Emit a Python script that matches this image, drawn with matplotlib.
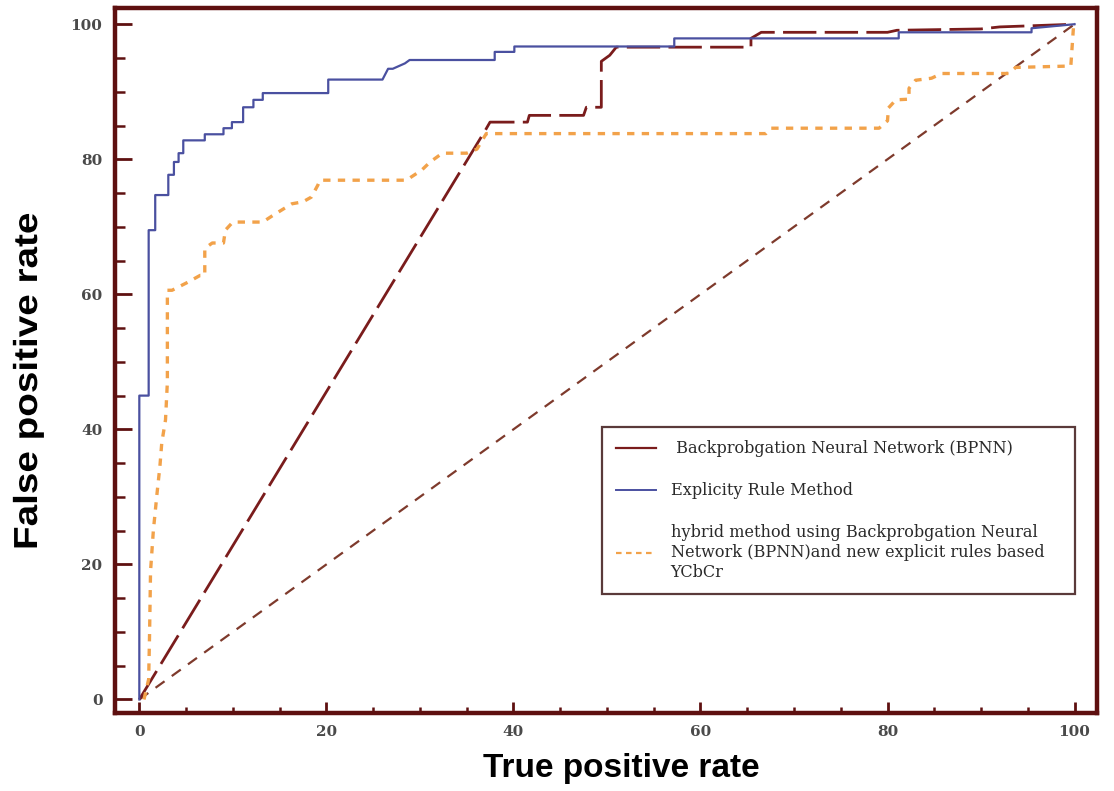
import matplotlib
matplotlib.use("Agg")
import matplotlib.pyplot as plt
from matplotlib.ticker import MultipleLocator
from matplotlib.lines import Line2D
from matplotlib.patheffects import AbstractPathEffect
from matplotlib.transforms import Affine2D

# ---- data ----
explicit_x = [0, 0, 1.0, 1.0, 1.7, 1.7, 3.1, 3.1, 3.7, 3.7, 4.2, 4.2, 4.7, 4.7, 7.0, 7.0,
              9.0, 9.0, 9.9, 9.9, 11.1, 11.1, 12.2, 12.2, 13.2, 13.2, 20.2, 20.2, 26.0, 26.6,
              27.1, 28.4, 28.9, 38.0, 38.0, 40.1, 40.1, 57.2, 57.2, 81.2, 81.2, 95.4, 95.4, 100]
explicit_y = [0, 45, 45, 69.5, 69.5, 74.7, 74.7, 77.7, 77.7, 79.6, 79.6, 80.9, 80.9, 82.8, 82.8, 83.7,
              83.7, 84.6, 84.6, 85.5, 85.5, 87.7, 87.7, 88.8, 88.8, 89.8, 89.8, 91.8, 91.8, 93.4,
              93.4, 94.2, 94.7, 94.7, 95.9, 95.9, 96.7, 96.7, 97.9, 97.9, 98.8, 98.8, 99.4, 100]

bpnn_x = [0, 37.0, 37.5, 41.5, 41.7, 47.5, 47.8, 49.2, 49.4, 49.4, 50.3, 51.0, 65.4, 65.4,
          66.5, 80.0, 81.0, 90.0, 92.0, 100]
bpnn_y = [0, 84.3, 85.5, 85.5, 86.5, 86.5, 87.7, 87.7, 87.7, 94.5, 95.4, 96.6, 96.6, 97.9,
          98.8, 98.8, 99.1, 99.3, 99.6, 100]

hybrid_x = [0.5, 1.0, 1.1, 1.2, 1.5, 1.9, 2.2, 2.4, 2.8, 3.0, 3.0, 3.5, 5.2, 6.5, 7.0, 7.0,
            7.8, 9.0, 9.2, 10.0, 13.2, 14.3, 16.3, 17.5, 18.4, 19.1, 19.3, 28.6, 29.1, 30.2,
            31.1, 32.4, 35.0, 36.1, 37.1, 67.0, 67.5, 79.1, 80.0, 80.1, 80.9, 82.3, 82.3, 83.0,
            84.7, 85.8, 93.0, 93.7, 99.4, 99.6, 99.9, 100]
hybrid_y = [0, 3, 10, 19, 25, 30.6, 34.5, 38, 41.4, 47, 60.6, 60.6, 61.8, 62.8, 62.8, 66.8,
            67.6, 67.6, 69.5, 70.7, 70.7, 71.7, 73.4, 73.7, 74.4, 76.2, 76.9, 76.9, 77.4, 78.4,
            79.6, 80.9, 80.9, 81.5, 83.8, 83.8, 84.6, 84.6, 85.7, 87.6, 88.8, 88.9, 90.5, 91.7,
            92.0, 92.7, 92.7, 93.6, 93.8, 93.8, 99.9, 100]

ref_x = [0, 100]
ref_y = [0, 100]

legend_labels = [
    " Backprobgation Neural Network (BPNN)",
    "Explicity Rule Method",
    "hybrid method using Backprobgation Neural\nNetwork (BPNN)and new explicit rules based\nYCbCr",
]
x_ticks = [0, 20, 40, 60, 80, 100]
y_ticks = [0, 20, 40, 60, 80, 100]

# ---- styling ----
frame_col = "#5e1010"
bpnn_col = "#7a1c1c"
blue_col = "#4a50a0"
orange_col = "#f2a24a"
ref_col = "#7e3a2c"


class Stretch(AbstractPathEffect):
    """Draw text stretched along its own direction (keeps it a Text artist)."""
    def __init__(self, sx=1.0, sy=1.0):
        super().__init__()
        self.sx, self.sy = sx, sy

    def draw_path(self, renderer, gc, tpath, affine, rgbFace=None):
        renderer.draw_path(gc, tpath, Affine2D().scale(self.sx, self.sy) + affine, rgbFace)


W, H = 1114, 791
fig = plt.figure(figsize=(W / 100, H / 100), dpi=100)
ax = fig.add_axes([115 / W, 1 - 713 / H, (1097 - 115) / W, (713 - 8) / H])

ax.plot(ref_x, ref_y, color=ref_col, lw=1.6, linestyle=(0, (5, 4)), zorder=2)
ax.plot(bpnn_x, bpnn_y, color=bpnn_col, lw=2.0, linestyle=(0, (12, 3)), zorder=3)
ax.plot(explicit_x, explicit_y, color=blue_col, lw=1.6, zorder=4)
ax.plot(hybrid_x, hybrid_y, color=orange_col, lw=2.4, linestyle=(0, (2.2, 2.2)), zorder=3)

ax.set_xlim(-2.6, 102.4)
ax.set_ylim(-2.0, 102.4)
ax.set_xticks(x_ticks)
ax.set_yticks(y_ticks)
ax.xaxis.set_minor_locator(MultipleLocator(5))
ax.yaxis.set_minor_locator(MultipleLocator(5))
ax.tick_params(which="both", direction="in", color=frame_col,
               labelsize=11, labelcolor="#4a4a4a")
ax.tick_params(axis="y", which="major", length=12, width=2.0, pad=9)
ax.tick_params(axis="y", which="minor", length=7, width=1.8)
ax.tick_params(axis="x", which="major", length=8, width=2.0, pad=9)
ax.tick_params(axis="x", which="minor", length=4, width=1.8)
for lab in ax.get_xticklabels() + ax.get_yticklabels():
    lab.set_fontfamily("DejaVu Serif")
    lab.set_fontweight("bold")

for s in ax.spines.values():
    s.set_color(frame_col)
    s.set_linewidth(3.2)

# Legend
h1 = Line2D([], [], color=bpnn_col, lw=1.6)
h2 = Line2D([], [], color=blue_col, lw=1.4)
h3 = Line2D([], [], color=orange_col, lw=1.6, linestyle=(0, (2.5, 2)))
leg = ax.legend([h1, h2, h3], legend_labels, loc="upper left",
                bbox_to_anchor=(0.496, 0.0, 0.482, 0.406), mode="expand",
                frameon=True, fancybox=False,
                prop={"family": "DejaVu Serif", "size": 11.6},
                labelspacing=1.55, handlelength=2.5, handletextpad=0.9,
                borderpad=0.85, borderaxespad=0)
fr = leg.get_frame()
fr.set_edgecolor("#5a3a3a")
fr.set_linewidth(1.6)
fr.set_facecolor("white")
fr.set_alpha(1.0)
for t in leg.get_texts():
    t.set_color("#2a2a2a")

# Axis labels
fig.text(621 / W, 1 - 777 / H, "True positive rate", ha="center", va="baseline",
         fontsize=24, fontweight="bold", family=["Liberation Sans", "DejaVu Sans"])
fig.text(37 / W, 1 - 550 / H, "False positive rate", ha="left", va="baseline",
         rotation=90, rotation_mode="anchor", fontsize=24, fontweight="bold",
         family=["Liberation Sans", "DejaVu Sans"],
         path_effects=[Stretch(1.16, 1.0)])

fig.savefig("out.png", dpi=100)
